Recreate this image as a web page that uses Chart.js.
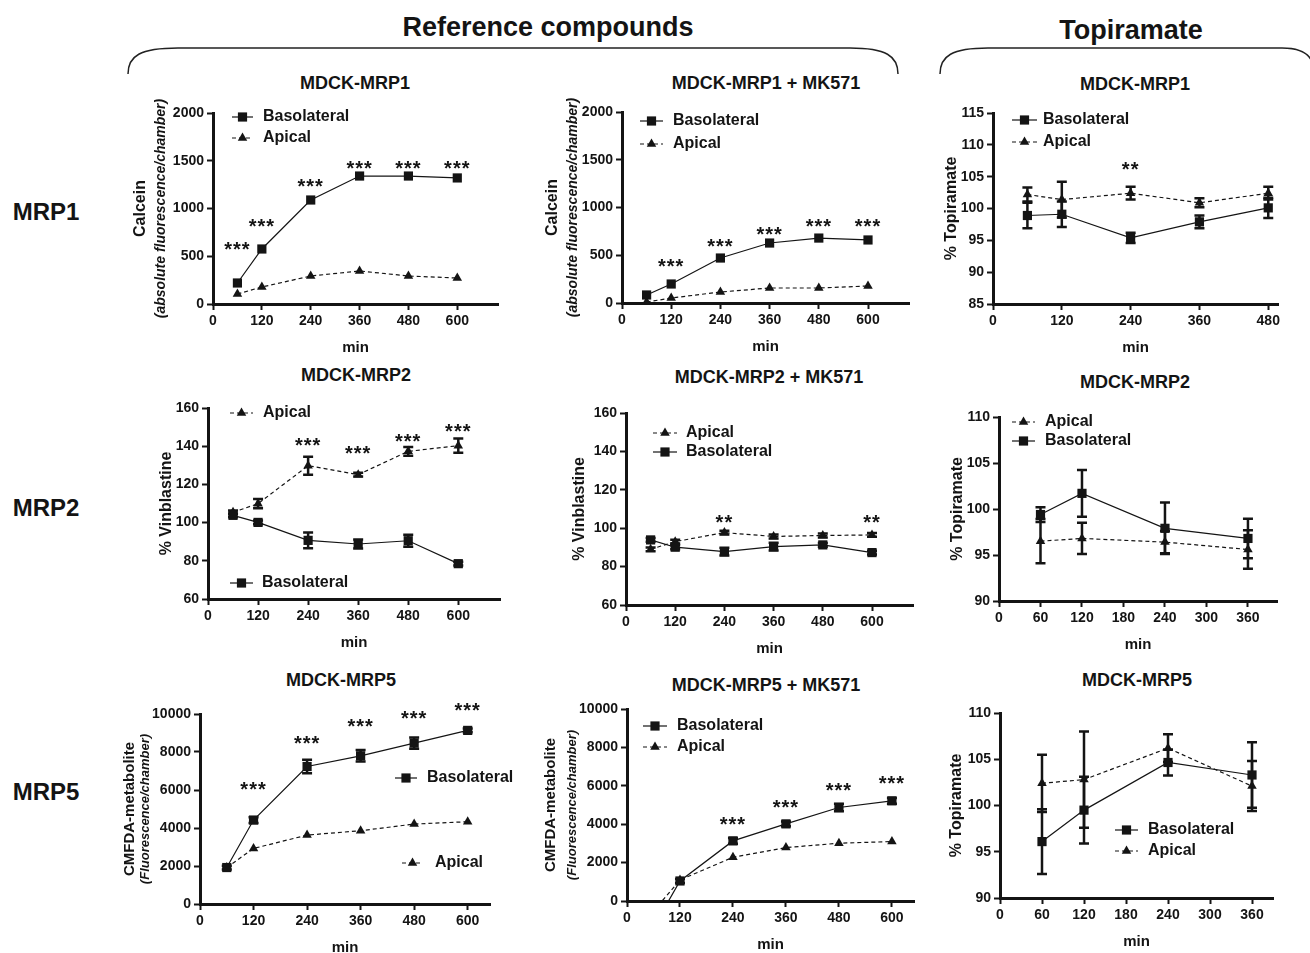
<!DOCTYPE html>
<html>
<head>
<meta charset="utf-8">
<script src="https://cdn.jsdelivr.net/npm/chart.js@4.4.1/dist/chart.umd.min.js"></script>
<style>
  body { margin: 0; background: #fff; }
  #fig { position: relative; width: 1310px; height: 953px; overflow: hidden; background: #fff;
         font-family: "Liberation Sans", Arial, Helvetica, sans-serif; font-weight: bold; color: #141414; }
  .txt { position: absolute; white-space: nowrap; transform: translate(-50%, -50%); }
  .head { font-size: 27px; }
  .row { font-size: 24px; }
  .ttl { font-size: 18px; }
  svg { position: absolute; left: 0; top: 0; }
</style>
</head>
<body>
<div id="fig">
  <svg width="1310" height="100">
    <path d="M128 74 C128 56 140 48 178 48 L850 48 C886 48 898 56 898 74" fill="none" stroke="#222" stroke-width="1.5"/>
    <path d="M940 74 C940 56 952 48 988 48 L1282 48 C1300 48 1309 54 1312 62" fill="none" stroke="#222" stroke-width="1.5"/>
  </svg>
  <div class="txt head" style="left:548px;top:27px">Reference compounds</div>
  <div class="txt head" style="left:1131px;top:30px">Topiramate</div>

  <div class="txt row" style="left:46px;top:212px">MRP1</div>
  <div class="txt row" style="left:46px;top:508px">MRP2</div>
  <div class="txt row" style="left:46px;top:792px">MRP5</div>

  <div class="txt ttl" style="left:355px;top:83px">MDCK-MRP1</div>
  <div class="txt ttl" style="left:766px;top:83px">MDCK-MRP1 + MK571</div>
  <div class="txt ttl" style="left:1135px;top:84px">MDCK-MRP1</div>
  <div class="txt ttl" style="left:356px;top:375px">MDCK-MRP2</div>
  <div class="txt ttl" style="left:769px;top:377px">MDCK-MRP2 + MK571</div>
  <div class="txt ttl" style="left:1135px;top:382px">MDCK-MRP2</div>
  <div class="txt ttl" style="left:341px;top:680px">MDCK-MRP5</div>
  <div class="txt ttl" style="left:766px;top:685px">MDCK-MRP5 + MK571</div>
  <div class="txt ttl" style="left:1137px;top:680px">MDCK-MRP5</div>
</div>

<script>
const FONT = '"Liberation Sans", Arial, Helvetica, sans-serif';
const INK = '#141414';

// --- sampling times (min) ---
const timesRef = [60, 120, 240, 360, 480, 600];
const timesTpm1 = [60, 120, 240, 360, 480];
const timesTpm = [60, 120, 240, 360];

// --- axis tick labels ---
const xTicksRef = [0, 120, 240, 360, 480, 600];
const xTicksTpm1 = [0, 120, 240, 360, 480];
const xTicksTpm = [0, 60, 120, 180, 240, 300, 360];
const yTicksCalcein = [0, 500, 1000, 1500, 2000];
const yTicksTpm1 = [85, 90, 95, 100, 105, 110, 115];
const yTicksVinbl = [60, 80, 100, 120, 140, 160];
const yTicksTpm = [90, 95, 100, 105, 110];
const yTicksCmfda = [0, 2000, 4000, 6000, 8000, 10000];

// --- MRP1: calcein ---
const mrp1Baso = [220, 576, 1089, 1340, 1340, 1320];
const mrp1Api = [105, 178, 293, 346, 293, 272];
const mrp1StarX = [60, 120, 240, 360, 480, 600];
const mrp1StarY = [600, 845, 1264, 1448, 1448, 1448];

const mrp1MkBaso = [84, 199, 471, 628, 680, 660];
const mrp1MkApi = [10, 52, 115, 157, 157, 178];
const mrp1MkStarX = [120, 240, 360, 480, 600];
const mrp1MkStarY = [416, 618, 754, 834, 834];

// --- MRP1: topiramate ---
const tpm1Baso = [98.9, 99.1, 95.4, 97.9, 100.1];
const tpm1BasoErr = [2.0, 2.0, 0.8, 1.0, 1.6];
const tpm1Api = [102.2, 101.4, 102.4, 100.9, 102.4];
const tpm1ApiErr = [1.1, 2.8, 1.0, 0.7, 1.0];
const tpm1StarX = [240];
const tpm1StarY = [106.6];

// --- MRP2: vinblastine ---
const mrp2Api = [105.4, 109.9, 129.8, 125.1, 137.3, 140.3];
const mrp2ApiErr = [1, 2.4, 4.7, 1, 2.3, 3.7];
const mrp2Baso = [103.8, 100.1, 90.7, 88.8, 90.5, 78.5];
const mrp2BasoErr = [1, 1, 4.1, 2.4, 3.2, 1];
const mrp2StarX = [240, 360, 480, 600];
const mrp2StarY = [142, 137.8, 144.3, 149.2];

const mrp2MkApi = [89, 93, 97.7, 95.7, 96.2, 96.5];
const mrp2MkApiErr = [1, 1, 1, 1, 1, 1];
const mrp2MkBaso = [93.9, 90.1, 87.8, 90.4, 91.3, 87.3];
const mrp2MkBasoErr = [1, 1, 2, 2, 1, 1];
const mrp2MkStarX = [240, 600];
const mrp2MkStarY = [104.7, 104.7];

// --- MRP2: topiramate ---
const tpm2Api = [96.5, 96.8, 96.4, 95.6];
const tpm2ApiErr = [2.4, 1.7, 1.2, 2.1];
const tpm2Baso = [99.4, 101.7, 97.9, 96.8];
const tpm2BasoErr = [0.8, 2.55, 2.8, 2.15];

// --- MRP5: CMFDA metabolite ---
const mrp5Baso = [1919, 4419, 7236, 7800, 8468, 9137];
const mrp5BasoErr = [100, 150, 350, 300, 300, 100];
const mrp5Api = [1919, 2923, 3627, 3856, 4208, 4331];
const mrp5StarX = [120, 240, 360, 480, 600];
const mrp5StarY = [6180, 8592, 9525, 9930, 10352];

const mrp5MkBaso = [-1364, 1043, 3130, 4017, 4870, 5217];
const mrp5MkBasoErr = [0, 100, 150, 120, 200, 150];
const mrp5MkApi = [-530, 1096, 2278, 2783, 3009, 3096];
const mrp5MkStarX = [240, 360, 480, 600];
const mrp5MkStarY = [4139, 5009, 5913, 6261];

// --- MRP5: topiramate ---
const tpm5Baso = [96.1, 99.5, 104.65, 103.3];
const tpm5BasoErr = [3.5, 3.6, 1.4, 3.55];
const tpm5Api = [102.4, 102.8, 106.2, 102.1];
const tpm5ApiErr = [3.1, 5.2, 1.5, 2.7];

// --- layout constants ---
const AX_W = 90;   // room for y ticks + title
const AX_H = 53;   // room for x ticks + "min"
const PAD_T = 25;
const PAD_R = 30;

Chart.defaults.font.family = FONT;

// --- plugins ---
const errorBars = {
  id: 'errorBars',
  beforeDatasetsDraw(chart) {
    const { ctx, scales: { x, y } } = chart;
    ctx.save();
    ctx.strokeStyle = INK;
    ctx.lineWidth = 2.5;
    chart.data.datasets.forEach(ds => {
      if (!ds.errors) return;
      ds.data.forEach((pt, i) => {
        const e = ds.errors[i];
        if (!e) return;
        const px = x.getPixelForValue(pt.x);
        const hi = y.getPixelForValue(pt.y + e);
        const lo = y.getPixelForValue(pt.y - e);
        ctx.beginPath();
        ctx.moveTo(px, hi); ctx.lineTo(px, lo);
        ctx.moveTo(px - 5, hi); ctx.lineTo(px + 5, hi);
        ctx.moveTo(px - 5, lo); ctx.lineTo(px + 5, lo);
        ctx.stroke();
      });
    });
    ctx.restore();
  }
};

const sigMarks = {
  id: 'sigMarks',
  afterDatasetsDraw(chart, args, opts) {
    if (!opts.xs) return;
    const { ctx, scales: { x, y } } = chart;
    ctx.save();
    ctx.font = 'bold 20px ' + FONT;
    ctx.fillStyle = INK;
    ctx.textAlign = 'center';
    ctx.textBaseline = 'middle';
    ctx.letterSpacing = '1px';
    opts.xs.forEach((xv, i) => {
      ctx.fillText(opts.label, x.getPixelForValue(xv), y.getPixelForValue(opts.ys[i]) + 4);
    });
    ctx.restore();
  }
};

const insetLegend = {
  id: 'insetLegend',
  afterDatasetsDraw(chart, args, opts) {
    const { ctx, chartArea: a } = chart;
    (opts.items || []).forEach(it => {
      const ds = chart.data.datasets[it.ds];
      const yy = a.top + it.dy;
      ctx.save();
      ctx.strokeStyle = INK;
      ctx.lineWidth = ds.borderWidth;
      ctx.setLineDash(ds.borderDash || []);
      ctx.beginPath();
      ctx.moveTo(a.left + it.x0, yy);
      ctx.lineTo(a.left + it.x1, yy);
      ctx.stroke();
      ctx.setLineDash([]);
      ctx.fillStyle = INK;
      Chart.helpers.drawPoint(ctx, { pointStyle: ds.pointStyle, radius: ds.pointRadius, rotation: 0, borderWidth: 0 },
        a.left + (it.x0 + it.x1) / 2, yy);
      ctx.font = 'bold 16px ' + FONT;
      ctx.textBaseline = 'middle';
      ctx.textAlign = 'left';
      ctx.fillText(ds.label, a.left + it.tx, yy);
      ctx.restore();
    });
  }
};

const yTitle = {
  id: 'yTitle',
  afterDraw(chart, args, opts) {
    const { ctx, chartArea: a } = chart;
    const cy = (a.top + a.bottom) / 2 + (opts.dy || 0);
    (opts.lines || []).forEach(l => {
      ctx.save();
      ctx.translate(a.left - l.off, cy);
      ctx.rotate(-Math.PI / 2);
      ctx.font = l.f + ' ' + FONT;
      ctx.fillStyle = INK;
      ctx.textAlign = 'center';
      ctx.textBaseline = 'middle';
      ctx.fillText(l.text, 0, 0);
      ctx.restore();
    });
  }
};

// --- helpers ---
function series(xs, ys) { return xs.map((x, i) => ({ x, y: ys[i] })); }

function basoSet(xs, ys, err, extra) {
  return Object.assign({
    label: 'Basolateral', data: series(xs, ys), errors: err, showLine: true,
    borderColor: INK, backgroundColor: INK, borderWidth: 1.2,
    pointStyle: 'rect', pointRadius: 6.5, pointBorderWidth: 0, pointHoverRadius: 6.5
  }, extra || {});
}

function apicalSet(xs, ys, err, extra) {
  return Object.assign({
    label: 'Apical', data: series(xs, ys), errors: err, showLine: true,
    borderColor: INK, backgroundColor: INK, borderWidth: 1.2, borderDash: [4, 3],
    pointStyle: 'triangle', pointRadius: 5.5, pointBorderWidth: 0, pointHoverRadius: 5.5
  }, extra || {});
}

function axis(min, max, ticks, isX) {
  return {
    type: 'linear', min, max,
    afterBuildTicks: s => { s.ticks = ticks.map(v => ({ value: v })); },
    afterFit: s => { if (isX) s.height = AX_H; else s.width = AX_W; },
    grid: { drawOnChartArea: false, drawTicks: true, tickLength: 6, tickWidth: 2, tickColor: INK },
    border: { display: true, width: 3, color: INK },
    ticks: { color: INK, font: { family: FONT, size: 14, weight: 'bold' }, padding: 3,
             maxRotation: 0, autoSkip: false, callback: v => String(v) },
    title: isX
      ? { display: true, text: 'min', color: INK, font: { family: FONT, size: 15, weight: 'bold' }, padding: 0 }
      : { display: false }
  };
}

function panel(box, p) {
  const w = box.r - box.l + AX_W + PAD_R;
  const h = box.b - box.t + PAD_T + AX_H;
  const cv = document.createElement('canvas');
  cv.width = w; cv.height = h;
  cv.style.cssText = `position:absolute;left:${box.l - AX_W}px;top:${box.t - PAD_T}px;width:${w}px;height:${h}px`;
  document.getElementById('fig').appendChild(cv);
  new Chart(cv, {
    type: 'scatter',
    data: { datasets: p.datasets },
    options: {
      responsive: false,
      animation: false,
      layout: { padding: { left: 0, top: PAD_T, right: PAD_R, bottom: 0 } },
      plugins: {
        legend: { display: false },
        tooltip: { enabled: false },
        sigMarks: p.stars || {},
        insetLegend: { items: p.legend },
        yTitle: { lines: p.yTitle, dy: p.yDy || 0 }
      },
      scales: {
        x: axis(0, p.xMax, p.xTicks, true),
        y: axis(p.yTicks[0], p.yTicks[p.yTicks.length - 1], p.yTicks, false)
      }
    },
    plugins: [errorBars, sigMarks, insetLegend, yTitle]
  });
}

const calceinTitle = [
  { text: 'Calcein', f: 'bold 16px', off: 72 },
  { text: '(absolute fluorescence/chamber)', f: 'italic bold 14px', off: 52 }
];

// --- row 1 ---
panel({ l: 213, t: 113, r: 498, b: 304 }, {
  datasets: [basoSet(timesRef, mrp1Baso), apicalSet(timesRef, mrp1Api)],
  xMax: 700, xTicks: xTicksRef, yTicks: yTicksCalcein,
  stars: { xs: mrp1StarX, ys: mrp1StarY, label: '***' },
  legend: [{ ds: 0, x0: 19, x1: 40, tx: 50, dy: 4 }, { ds: 1, x0: 19, x1: 40, tx: 50, dy: 25 }],
  yTitle: calceinTitle
});

panel({ l: 622, t: 112, r: 909, b: 303 }, {
  datasets: [basoSet(timesRef, mrp1MkBaso), apicalSet(timesRef, mrp1MkApi)],
  xMax: 700, xTicks: xTicksRef, yTicks: yTicksCalcein,
  stars: { xs: mrp1MkStarX, ys: mrp1MkStarY, label: '***' },
  legend: [{ ds: 0, x0: 18, x1: 41, tx: 51, dy: 9 }, { ds: 1, x0: 18, x1: 41, tx: 51, dy: 32 }],
  yTitle: [{ text: 'Calcein', f: 'bold 16px', off: 69 },
           { text: '(absolute fluorescence/chamber)', f: 'italic bold 14px', off: 49 }]
});

panel({ l: 993, t: 113, r: 1278, b: 304 }, {
  datasets: [basoSet(timesTpm1, tpm1Baso, tpm1BasoErr), apicalSet(timesTpm1, tpm1Api, tpm1ApiErr)],
  xMax: 497, xTicks: xTicksTpm1, yTicks: yTicksTpm1,
  stars: { xs: tpm1StarX, ys: tpm1StarY, label: '**' },
  legend: [{ ds: 0, x0: 19, x1: 44, tx: 50, dy: 7 }, { ds: 1, x0: 19, x1: 44, tx: 50, dy: 29 }],
  yTitle: [{ text: '% Topiramate', f: 'bold 16px', off: 41 }]
});

// --- row 2 ---
panel({ l: 208, t: 408, r: 500, b: 599 }, {
  datasets: [apicalSet(timesRef, mrp2Api, mrp2ApiErr), basoSet(timesRef, mrp2Baso, mrp2BasoErr)],
  xMax: 700, xTicks: xTicksRef, yTicks: yTicksVinbl,
  stars: { xs: mrp2StarX, ys: mrp2StarY, label: '***' },
  legend: [{ ds: 0, x0: 22, x1: 45, tx: 55, dy: 5 }, { ds: 1, x0: 22, x1: 45, tx: 54, dy: 175 }],
  yTitle: [{ text: '% Vinblastine', f: 'bold 16px', off: 41 }]
});

panel({ l: 626, t: 413, r: 913, b: 605 }, {
  datasets: [apicalSet(timesRef, mrp2MkApi, mrp2MkApiErr), basoSet(timesRef, mrp2MkBaso, mrp2MkBasoErr)],
  xMax: 700, xTicks: xTicksRef, yTicks: yTicksVinbl,
  stars: { xs: mrp2MkStarX, ys: mrp2MkStarY, label: '**' },
  legend: [{ ds: 0, x0: 27, x1: 51, tx: 60, dy: 20 }, { ds: 1, x0: 27, x1: 51, tx: 60, dy: 39 }],
  yTitle: [{ text: '% Vinblastine', f: 'bold 16px', off: 46 }]
});

panel({ l: 999, t: 417, r: 1277, b: 601 }, {
  datasets: [apicalSet(timesTpm, tpm2Api, tpm2ApiErr), basoSet(timesTpm, tpm2Baso, tpm2BasoErr)],
  xMax: 402, xTicks: xTicksTpm, yTicks: yTicksTpm,
  legend: [{ ds: 0, x0: 13, x1: 36, tx: 46, dy: 5 }, { ds: 1, x0: 13, x1: 36, tx: 46, dy: 24 }],
  yTitle: [{ text: '% Topiramate', f: 'bold 16px', off: 41 }]
});

// --- row 3 ---
panel({ l: 200, t: 714, r: 490, b: 904 }, {
  datasets: [basoSet(timesRef, mrp5Baso, mrp5BasoErr), apicalSet(timesRef, mrp5Api)],
  xMax: 650, xTicks: xTicksRef, yTicks: yTicksCmfda,
  stars: { xs: mrp5StarX, ys: mrp5StarY, label: '***' },
  legend: [{ ds: 0, x0: 195, x1: 217, tx: 227, dy: 64 }, { ds: 1, x0: 202, x1: 223, tx: 235, dy: 149 }],
  yTitle: [{ text: 'CMFDA-metabolite', f: 'bold 15px', off: 70 },
           { text: '(Fluorescence/chamber)', f: 'italic bold 13px', off: 55 }]
});

const clipFloor = { clip: { left: 10, top: 10, right: 10, bottom: 0 } };
panel({ l: 627, t: 709, r: 914, b: 901 }, {
  datasets: [basoSet(timesRef, mrp5MkBaso, mrp5MkBasoErr, clipFloor), apicalSet(timesRef, mrp5MkApi, null, clipFloor)],
  xMax: 650, xTicks: xTicksRef, yTicks: yTicksCmfda,
  stars: { xs: mrp5MkStarX, ys: mrp5MkStarY, label: '***' },
  legend: [{ ds: 0, x0: 16, x1: 40, tx: 50, dy: 17 }, { ds: 1, x0: 16, x1: 40, tx: 50, dy: 38 }],
  yTitle: [{ text: 'CMFDA-metabolite', f: 'bold 15px', off: 76 },
           { text: '(Fluorescence/chamber)', f: 'italic bold 13px', off: 55 }]
});

panel({ l: 1000, t: 713, r: 1273, b: 898 }, {
  datasets: [basoSet(timesTpm, tpm5Baso, tpm5BasoErr), apicalSet(timesTpm, tpm5Api, tpm5ApiErr)],
  xMax: 390, xTicks: xTicksTpm, yTicks: yTicksTpm,
  legend: [{ ds: 0, x0: 115, x1: 138, tx: 148, dy: 117 }, { ds: 1, x0: 115, x1: 138, tx: 148, dy: 138 }],
  yTitle: [{ text: '% Topiramate', f: 'bold 16px', off: 43 }]
});
</script>
</body>
</html>
